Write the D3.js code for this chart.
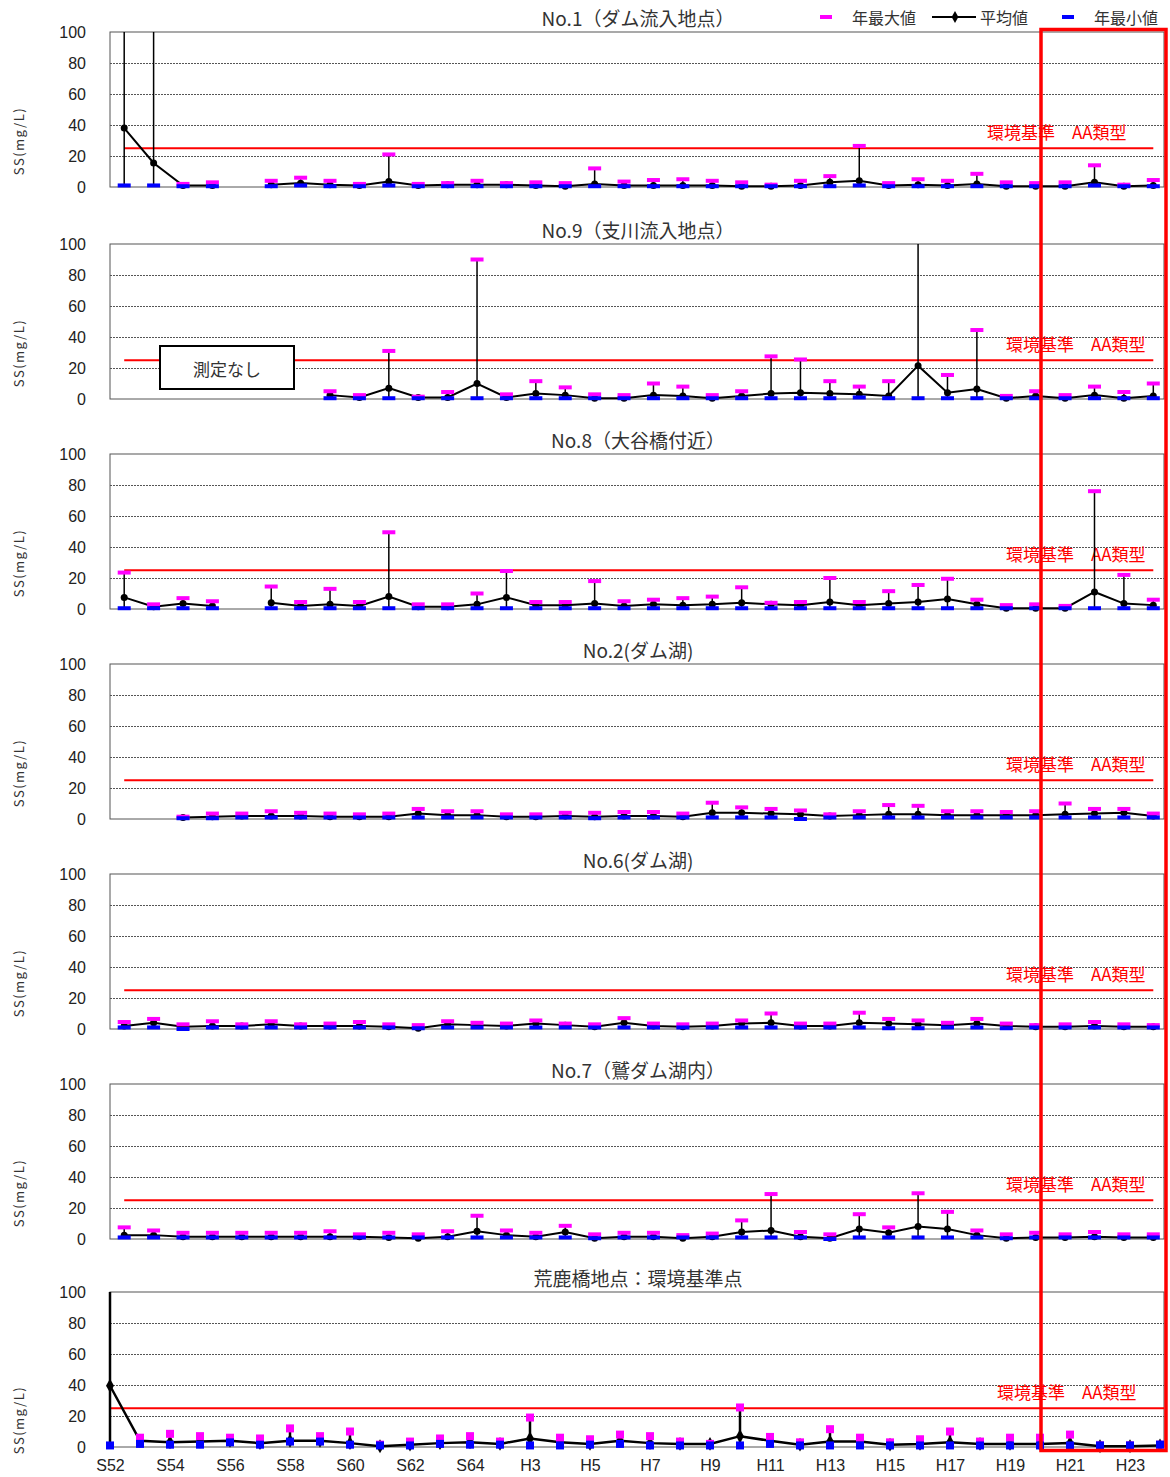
<!DOCTYPE html>
<html>
<head>
<meta charset="utf-8">
<script src="https://cdn.jsdelivr.net/npm/d3@7"></script>
<style>
body { margin: 0; background: #fff; }
text { font-family: "Noto Sans CJK JP", "Noto Sans", sans-serif; }
</style>
</head>
<body>
<svg id="chart" width="1170" height="1477"></svg>
<script>
// categories (S52 .. H24), ticks every other year up to H23
var years = ["S52","S53","S54","S55","S56","S57","S58","S59","S60","S61","S62","S63","S64",
  "H2","H3","H4","H5","H6","H7","H8","H9","H10","H11","H12","H13","H14","H15","H16","H17",
  "H18","H19","H20","H21","H22","H23","H24"];
var tickYears = years.filter(function(d, i) { return i % 2 == 0 && i <= 34; });
var yTicks = [0, 20, 40, 60, 80, 100];
var gridTicks = [20, 40, 60, 80];
var standardValue = 25;

var titles = ["No.1（ダム流入地点）", "No.9（支川流入地点）", "No.8（大谷橋付近）",
  "No.2(ダム湖)", "No.6(ダム湖)", "No.7（鷲ダム湖内）", "荒鹿橋地点：環境基準点"];

// No.1
var no1Max  = [120,110,2,3,null,4,6,4,2,21,2,2.5,4,2.5,3,2.5,12,3.5,4.5,5,4,3,1.5,4,7,26.5,2.5,5,4,8.5,3,2.5,3,14,1.5,4.5];
var no1Mean = [38,15.5,1,1,null,1.5,2.5,1.5,1,3.5,1,1.5,1.5,1.5,1,0.5,2,1,1,1,1,0.5,0.5,1,3,4,1,1.5,1,2,0.5,0.5,0.5,3,0.5,1];
var no1Min  = [1,1,0.5,0.5,null,0.5,1,0.5,0.5,1,0.5,0.5,0.5,0.5,0.5,0.5,0.5,0.5,0.5,0.5,0.5,0.5,0.5,0.5,0.5,1,0.5,0.5,0.5,0.5,0.5,0.5,0.5,1,0.5,0.5];
// No.9
var no9Max  = [null,null,null,null,null,null,null,5,2.5,31,1.5,4.5,90,3,11.5,7.5,3,2.5,10,8,2.5,5,27.5,25.5,11.5,8,11.5,130,15.5,44.5,2,5,2.5,8,4.5,10];
var no9Mean = [null,null,null,null,null,null,null,2.5,1,7,1,1,10,1,3.5,2.5,0.5,0.5,2.5,2,0.5,2,3.5,4,3.5,3,2,21.5,4,6.5,0.5,2,0.5,2.5,0.5,2];
var no9Min  = [null,null,null,null,null,null,null,0.5,0.5,0.5,0.5,0.5,0.5,0.5,0.5,0.5,0.5,0.5,0.5,0.5,0.5,0.5,0.5,0.5,0.5,1,0.5,0.5,0.5,0.5,0.5,0.5,0.5,0.5,0.5,0.5];
// No.8
var no8Max  = [23.5,3,7,5,null,14.5,4.5,13,4.5,49.5,3,3,10,24.5,4.5,4.5,18,5,6,7,8,14,4,4.5,20,4.5,11.5,15.5,19.5,6,2.5,3,2,76,22,6];
var no8Mean = [7.5,1.5,3.5,2,null,4,2,3,2,8,1.5,1.5,3,7.5,2.5,2.5,3.5,2,3,2.5,3,4,3,2.5,4.5,2.5,3.5,4.5,6.5,3,0.5,0.5,0.5,11,3.5,2.5];
var no8Min  = [0.5,0.5,0.5,0.5,null,0.5,0.5,0.5,0.5,0.5,0.5,0.5,0.5,0.5,0.5,0.5,0.5,0.5,0.5,0.5,0.5,0.5,0.5,0.5,0.5,0.5,0.5,0.5,0.5,0.5,0.5,0.5,0.5,0.5,0.5,0.5];
// No.2
var no2Max  = [null,null,1.5,3.5,3.5,5,4,3.5,3,3.5,6.5,5,5,3,3,4,4,4.5,4.5,3.5,10.5,7.5,6.5,5.5,3,5,9,8.5,5,5,4.5,5,10,6.5,6.5,3.5];
var no2Mean = [null,null,1,1.5,2,2,2,1.5,1.5,1.5,3.5,2.5,2.5,1.5,1.5,2,1.5,2,2,1.5,4,4,3.5,3,2,2.5,3,3,2.5,2.5,2.5,2.5,3,3.5,4,2];
var no2Min  = [null,null,0.5,0.5,1,1,1,1,1,1,1,1,1,1,1,1,0.5,1,1,1,1,1,1,0,1,1,1,1,1,1,1,1,1,1,1,1];
// No.6
var no6Max  = [4.5,6.5,3,5,3,5,3,3.5,4.5,3,2.5,5,4,3.5,5.5,3.5,3,7,3.5,3,3.5,5.5,10,3.5,3.5,10.5,6.5,5.5,4,6.5,3.5,2.5,3,4.5,3,2.5];
var no6Mean = [2,4,1.5,2,2,3,2,2,2,1.5,0.5,3,2.5,2,3.5,2.5,1.5,4,2,1.5,2,3.5,4,2,2,4,3.5,3,2.5,3.5,2,1.5,1.5,2,1.5,1.5];
var no6Min  = [1,1,0,1,1,1,1,1,1,1,0.5,1,1,1,1,1,1,1,1,1,1,1,1,1,1,1,0.5,0.5,1,1,0.5,1,1,1,1,1];
// No.7
var no7Max  = [7.5,5.5,4,4,4,4,4,5,3,4,3,5,15,5.5,4,8.5,3,4,4,2.5,3.5,12,29,4.5,3,16,7.5,29.5,17.5,5.5,3,4,3,4.5,3,3];
var no7Mean = [2.5,2.5,1.5,1.5,1.5,1.5,1.5,1.5,1.5,1,0.5,1.5,5,2.5,1.5,4.5,0.5,1.5,1.5,0.5,1.5,4.5,5.5,1.5,0.5,6.5,4,8,6.5,2.5,0.5,1,1,1.5,1,1];
var no7Min  = [1,1,1,1,1,1,1,1,1,1,1,1,1,1,1,1,0.5,1,1,1,1,1,1,1,0,1,1,1,1,1,0.5,1,1,1,1,1];
// 荒鹿橋
var araMax  = [130,6,8.5,7,6,5.5,12,7,10,1.5,3.5,5.5,7,3.5,19,6,5,8,7,3.5,2,25.5,6.5,3,11.5,6,3,5,10,3.5,6,6,8,1,1,1.5];
var araMean = [39.5,4,3,3.5,4,2.5,4,4,2.5,0.5,1.5,2.5,3,2,5.5,3,2,4,2.5,2,2,7,4,1.5,3.5,3.5,1.5,2,3,2,2,2,2.5,0.5,0.5,1];
var araMin  = [1,2,1.5,1.5,3,1.5,3.5,3.5,1.5,1,1,2,1.5,1.5,1,1,1.5,2,1,1,1,1,2,1,1,1,1,1,1,1,1,1,1,1,1,1.5];

var panels = [
  {title: titles[0], max: no1Max, mean: no1Mean, min: no1Min},
  {title: titles[1], max: no9Max, mean: no9Mean, min: no9Min},
  {title: titles[2], max: no8Max, mean: no8Mean, min: no8Min},
  {title: titles[3], max: no2Max, mean: no2Mean, min: no2Min},
  {title: titles[4], max: no6Max, mean: no6Mean, min: no6Min},
  {title: titles[5], max: no7Max, mean: no7Mean, min: no7Min},
  {title: titles[6], max: araMax, mean: araMean, min: araMin}
];

var svg = d3.select("#chart");
var panelTops = [32, 244, 454, 664, 874, 1084, 1292];
var plotLeft = 110, plotRight = 1164, plotH = 155;

// panels 1-6: markers between tick marks; last panel: on tick marks
var xBand = d3.scaleBand().domain(years).range([109.5, 1168]);
var xPoint = d3.scalePoint().domain(years).range([110, 1160]);

panels.forEach(function(p, k) {
  var top = panelTops[k];
  var last = (k == panels.length - 1);
  var y = d3.scaleLinear().domain([0, 100]).range([top + plotH, top]);
  function cx(i) { return last ? xPoint(years[i]) : xBand(years[i]) + xBand.bandwidth() / 2; }

  var g = svg.append("g");

  // clip only the top (values over 100)
  g.append("clipPath").attr("id", "clip" + k)
    .append("rect").attr("x", 0).attr("y", top).attr("width", 1170).attr("height", plotH + 10);

  // grid lines
  g.selectAll(".grid").data(gridTicks).enter().append("line")
    .attr("x1", plotLeft).attr("x2", plotRight)
    .attr("y1", function(d) { return y(d) + 0.5; }).attr("y2", function(d) { return y(d) + 0.5; })
    .attr("stroke", "#555").attr("stroke-width", 1).attr("stroke-dasharray", "2,1");

  // frame
  g.append("rect").attr("x", plotLeft).attr("y", top).attr("width", plotRight - plotLeft).attr("height", plotH)
    .attr("fill", "none").attr("stroke", "#555").attr("stroke-width", 1);

  // y axis
  var ax = g.append("g").attr("transform", "translate(" + plotLeft + ",0)")
    .call(d3.axisLeft(y).tickValues(yTicks).tickSize(0).tickPadding(24));
  ax.select(".domain").remove();
  ax.selectAll("text").attr("font-size", 16).attr("fill", "#222")
    .style("font-family", "'Liberation Sans', sans-serif");

  // y axis title
  var ly = last ? top + plotH - 27 : top + plotH - 46;
  g.append("text").attr("transform", "translate(24," + ly + ") rotate(-90)")
    .attr("text-anchor", "middle").attr("font-size", 13).attr("letter-spacing", 1.5)
    .attr("fill", "#333").text("SS(mg/L)");

  // title
  g.append("text").attr("x", 638).attr("y", top - 15).attr("dominant-baseline", "central")
    .attr("text-anchor", "middle").attr("font-size", 19).attr("fill", "#333").text(p.title);

  // environmental standard
  g.append("line")
    .attr("x1", last ? plotLeft : cx(0)).attr("x2", last ? plotRight : cx(years.length - 1))
    .attr("y1", y(standardValue)).attr("y2", y(standardValue))
    .attr("stroke", "#ff0000").attr("stroke-width", 2);
  g.append("text").attr("x", k == 0 ? 987 : (last ? 997 : 1006)).attr("y", y(standardValue) - 17)
    .attr("dominant-baseline", "central").attr("font-size", 17).attr("fill", "#ff0000")
    .text("環境基準　AA類型");

  var marks = g.append("g").attr("clip-path", "url(#clip" + k + ")");
  var idx = d3.range(years.length).filter(function(i) { return p.mean[i] != null; });

  // high-low lines
  marks.selectAll(".hilo").data(idx).enter().append("line")
    .attr("x1", cx).attr("x2", cx)
    .attr("y1", function(i) { return y(p.min[i]); })
    .attr("y2", function(i) { return y(p.max[i]); })
    .attr("stroke", "#000").attr("stroke-width", last ? 2.5 : 1.5);

  // mean line
  var line = d3.line()
    .defined(function(d) { return d != null; })
    .x(function(d, i) { return cx(i); })
    .y(function(d) { return y(d); });
  marks.append("path").datum(p.mean).attr("d", line)
    .attr("fill", "none").attr("stroke", "#000").attr("stroke-width", last ? 2.5 : 2);

  if (last) {
    marks.selectAll(".mean").data(idx).enter().append("path")
      .attr("transform", function(i) { return "translate(" + cx(i) + "," + y(p.mean[i]) + ")"; })
      .attr("d", d3.symbol().type(d3.symbolDiamond).size(55)).attr("fill", "#000");
    marks.selectAll(".max").data(idx).enter().append("rect")
      .attr("x", function(i) { return cx(i) - 4; }).attr("y", function(i) { return y(p.max[i]) - 4; })
      .attr("width", 8).attr("height", 8).attr("fill", "#ff00ff");
    marks.selectAll(".min").data(idx).enter().append("rect")
      .attr("x", function(i) { return cx(i) - 4; }).attr("y", function(i) { return y(p.min[i]) - 4; })
      .attr("width", 8).attr("height", 8).attr("fill", "#0000ff");
  } else {
    marks.selectAll(".mean").data(idx).enter().append("circle")
      .attr("cx", cx).attr("cy", function(i) { return y(p.mean[i]); })
      .attr("r", 3.5).attr("fill", "#000");
    marks.selectAll(".max").data(idx).enter().append("rect")
      .attr("x", function(i) { return cx(i) - 6.5; }).attr("y", function(i) { return y(p.max[i]) - 2; })
      .attr("width", 13).attr("height", 4).attr("fill", "#ff00ff");
    marks.selectAll(".min").data(idx).enter().append("rect")
      .attr("x", function(i) { return cx(i) - 6.5; }).attr("y", function(i) { return y(p.min[i]) - 2; })
      .attr("width", 13).attr("height", 4).attr("fill", "#0000ff");
  }

  if (last) {
    var bx = g.append("g").attr("transform", "translate(0," + (top + plotH) + ")")
      .call(d3.axisBottom(xPoint).tickValues(tickYears).tickSize(0).tickPadding(13));
    bx.select(".domain").remove();
    bx.selectAll("text").attr("font-size", 16).attr("fill", "#222")
      .style("font-family", "'Liberation Sans', sans-serif");
  }

  if (k == 1) {
    // no measurement note
    g.append("rect").attr("x", 160).attr("y", 346).attr("width", 134).attr("height", 43)
      .attr("fill", "#fff").attr("stroke", "#000").attr("stroke-width", 2);
    g.append("text").attr("x", 227).attr("y", 368).attr("text-anchor", "middle")
      .attr("dominant-baseline", "central").attr("font-size", 17).attr("fill", "#333").text("測定なし");
  }
});

// legend
var lg = svg.append("g");
lg.append("rect").attr("x", 820).attr("y", 15).attr("width", 12).attr("height", 4).attr("fill", "#ff00ff");
lg.append("text").attr("x", 852).attr("y", 17).attr("dominant-baseline", "central").attr("font-size", 16).attr("fill", "#333").text("年最大値");
lg.append("line").attr("x1", 932).attr("x2", 976).attr("y1", 17).attr("y2", 17).attr("stroke", "#000").attr("stroke-width", 2);
lg.append("path").attr("transform", "translate(955,17)").attr("d", d3.symbol().type(d3.symbolDiamond).size(40)).attr("fill", "#000");
lg.append("text").attr("x", 980).attr("y", 17).attr("dominant-baseline", "central").attr("font-size", 16).attr("fill", "#333").text("平均値");
lg.append("rect").attr("x", 1062).attr("y", 15).attr("width", 12).attr("height", 4).attr("fill", "#0000ff");
lg.append("text").attr("x", 1094).attr("y", 17).attr("dominant-baseline", "central").attr("font-size", 16).attr("fill", "#333").text("年最小値");

// highlight box for recent years
svg.append("rect").attr("x", 1041).attr("y", 29.5).attr("width", 125).attr("height", 1421)
  .attr("fill", "none").attr("stroke", "#ff0000").attr("stroke-width", 3.5);
</script>
</body>
</html>
